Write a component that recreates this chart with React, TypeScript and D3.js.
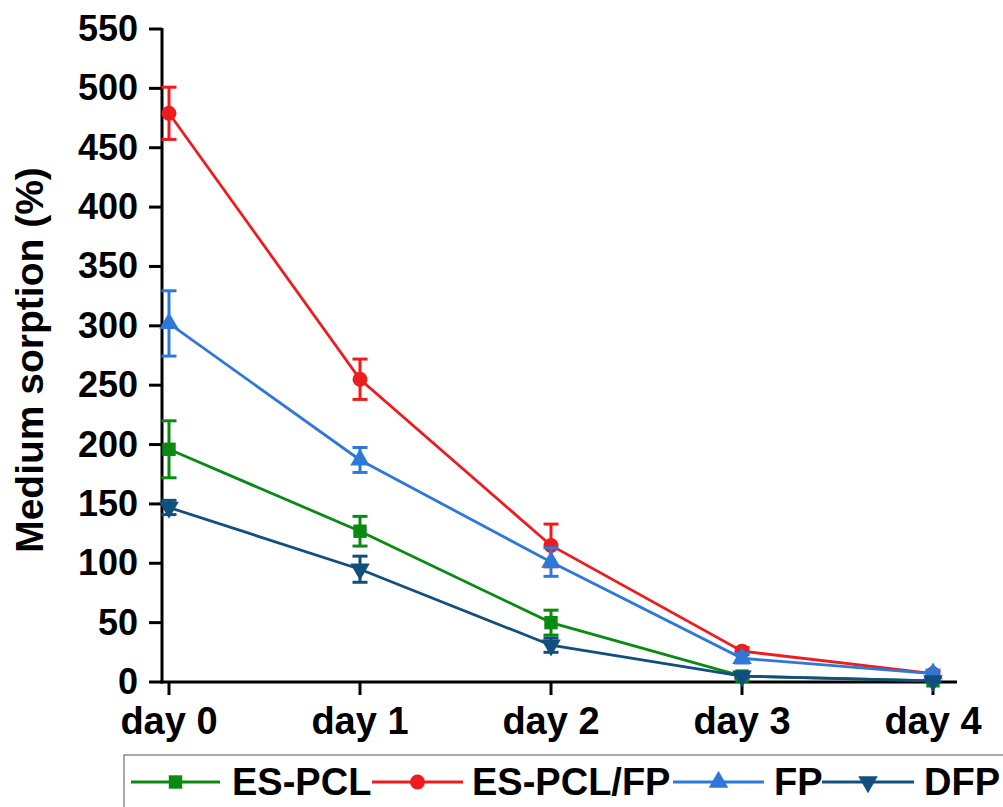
import React, { useEffect, useRef } from 'react';
import * as d3 from 'd3';

const days = ['day 0', 'day 1', 'day 2', 'day 3', 'day 4'];
const yTicks = [0, 50, 100, 150, 200, 250, 300, 350, 400, 450, 500, 550];

const seriesNames = ['ES-PCL', 'ES-PCL/FP', 'FP', 'DFP'];
const esPcl = [196, 127, 50, 5, 1];
const esPclErr = [24, 12.5, 10.5, 2, 1];
const esPclFp = [479, 255, 115, 26, 7];
const esPclFpErr = [22, 17, 18, 3, 2];
const fp = [302, 187, 101, 20, 7];
const fpErr = [27.5, 10.5, 12, 4, 3];
const dfp = [147, 95, 31, 5, 1];
const dfpErr = [6, 11, 6, 1, 1];

const colors = ['#0b8a12', '#ee1c1c', '#2d78d8', '#11507e'];

const W = 1003;
const H = 807;

const App: React.FC = () => {
  const svgRef = useRef<SVGSVGElement | null>(null);

  useEffect(() => {
    if (!svgRef.current) return;
    const svg = d3.select(svgRef.current);
    svg.selectAll('*').remove();

    const x = d3.scaleLinear().domain([0, 4]).range([169, 933]);
    const y = d3.scaleLinear().domain([0, 550]).range([682, 29]);
    const axisLeftX = 162;
    const axisRightX = 957;
    const font = '"Liberation Sans", Arial, sans-serif';

    const values = [esPcl, esPclFp, fp, dfp];
    const errs = [esPclErr, esPclFpErr, fpErr, dfpErr];
    const symbols = [
      { type: d3.symbolSquare, size: 180, rot: 0 },
      { type: d3.symbolCircle, size: 175, rot: 0 },
      { type: d3.symbolTriangle, size: 165, rot: 0 },
      { type: d3.symbolTriangle, size: 165, rot: 180 },
    ];

    // axes
    const yAxis = svg.append('g');
    yAxis
      .append('line')
      .attr('x1', axisLeftX)
      .attr('x2', axisLeftX)
      .attr('y1', y(550) - 1)
      .attr('y2', y(0) + 1.5)
      .attr('stroke', '#000')
      .attr('stroke-width', 3);
    yTicks.forEach(t => {
      yAxis
        .append('line')
        .attr('x1', axisLeftX - 13)
        .attr('x2', axisLeftX)
        .attr('y1', y(t))
        .attr('y2', y(t))
        .attr('stroke', '#000')
        .attr('stroke-width', 3);
      yAxis
        .append('text')
        .attr('x', 138)
        .attr('y', y(t) + 12)
        .attr('text-anchor', 'end')
        .style('font-family', font)
        .style('font-weight', 'bold')
        .style('font-size', '36px')
        .text(t);
    });

    const xAxis = svg.append('g');
    xAxis
      .append('line')
      .attr('x1', axisLeftX - 1.5)
      .attr('x2', axisRightX)
      .attr('y1', y(0))
      .attr('y2', y(0))
      .attr('stroke', '#000')
      .attr('stroke-width', 3);
    days.forEach((d, i) => {
      xAxis
        .append('line')
        .attr('x1', x(i))
        .attr('x2', x(i))
        .attr('y1', y(0))
        .attr('y2', y(0) + 13)
        .attr('stroke', '#000')
        .attr('stroke-width', 3);
      xAxis
        .append('text')
        .attr('x', x(i))
        .attr('y', 734)
        .attr('text-anchor', 'middle')
        .style('font-family', font)
        .style('font-weight', 'bold')
        .style('font-size', '38px')
        .text(d);
    });

    svg
      .append('text')
      .attr('transform', 'translate(43,360) rotate(-90)')
      .attr('text-anchor', 'middle')
      .style('font-family', font)
      .style('font-weight', 'bold')
      .style('font-size', '39px')
      .text('Medium sorption (%)');

    // series
    const line = d3
      .line<number>()
      .x((_, i) => x(i))
      .y(v => y(v));

    values.forEach((vals, s) => {
      const g = svg.append('g');
      g.append('path')
        .attr('d', line(vals))
        .attr('fill', 'none')
        .attr('stroke', colors[s])
        .attr('stroke-width', 2.8);

      vals.forEach((v, i) => {
        const e = errs[s][i];
        const cx = x(i);
        g.append('line')
          .attr('x1', cx)
          .attr('x2', cx)
          .attr('y1', y(v + e))
          .attr('y2', y(Math.max(0, v - e)))
          .attr('stroke', colors[s])
          .attr('stroke-width', 3);
        [v + e, Math.max(0, v - e)].forEach(ev => {
          g.append('line')
            .attr('x1', cx - 7.5)
            .attr('x2', cx + 7.5)
            .attr('y1', y(ev))
            .attr('y2', y(ev))
            .attr('stroke', colors[s])
            .attr('stroke-width', 3);
        });
        const sym = symbols[s];
        g.append('path')
          .attr('d', d3.symbol().type(sym.type).size(sym.size)() as string)
          .attr('transform', `translate(${cx},${y(v)}) rotate(${sym.rot})`)
          .attr('fill', colors[s]);
      });
    });

    // legend
    const legend = svg.append('g');
    legend
      .append('rect')
      .attr('x', 124)
      .attr('y', 755)
      .attr('width', 900)
      .attr('height', 80)
      .attr('fill', 'white')
      .attr('stroke', '#555')
      .attr('stroke-width', 1);

    const legendItems = [
      { x0: 131, x1: 220, tx: 232 },
      { x0: 372, x1: 463, tx: 472 },
      { x0: 673, x1: 764, tx: 774 },
      { x0: 822, x1: 914, tx: 924 },
    ];
    legendItems.forEach((it, s) => {
      legend
        .append('line')
        .attr('x1', it.x0)
        .attr('x2', it.x1)
        .attr('y1', 782)
        .attr('y2', 782)
        .attr('stroke', colors[s])
        .attr('stroke-width', 2.8);
      const sym = symbols[s];
      legend
        .append('path')
        .attr('d', d3.symbol().type(sym.type).size(sym.size)() as string)
        .attr('transform', `translate(${(it.x0 + it.x1) / 2},782) rotate(${sym.rot})`)
        .attr('fill', colors[s]);
      legend
        .append('text')
        .attr('x', it.tx)
        .attr('y', 795)
        .style('font-family', font)
        .style('font-weight', 'bold')
        .style('font-size', '38px')
        .text(seriesNames[s]);
    });
  }, []);

  return (
    <div style={{ position: 'absolute', left: 0, top: 0, width: W, height: H, background: 'white' }}>
      <svg ref={svgRef} width={W} height={H} style={{ display: 'block' }} />
    </div>
  );
};

export default App;
